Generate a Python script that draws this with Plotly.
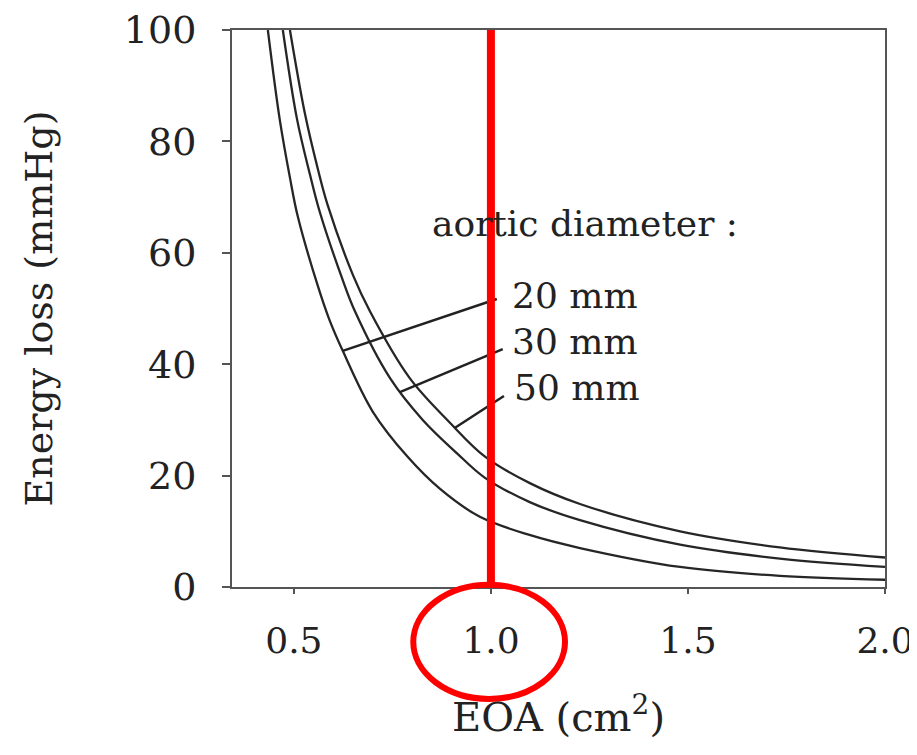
import plotly.graph_objects as go

# --- data ---
eoa_20 = [0.434, 0.464, 0.490, 0.510, 0.561, 0.590, 0.624, 0.700, 0.787, 0.871, 0.972, 1.100, 1.226, 1.480, 1.733, 2.000]
el_20 = [100.0, 84.0, 73.5, 66.5, 54.0, 48.0, 42.4, 31.5, 23.5, 17.6, 12.6, 9.3, 7.0, 3.6, 2.0, 1.3]

eoa_30 = [0.472, 0.508, 0.541, 0.565, 0.622, 0.655, 0.744, 0.827, 0.914, 0.985, 1.100, 1.226, 1.480, 1.733, 2.000]
el_30 = [100.0, 84.0, 74.0, 67.5, 55.5, 49.5, 37.5, 30.0, 24.0, 19.6, 15.2, 12.0, 7.6, 5.1, 3.6]

eoa_50 = [0.490, 0.528, 0.561, 0.586, 0.650, 0.693, 0.794, 0.896, 0.985, 1.100, 1.226, 1.480, 1.733, 2.000]
el_50 = [100.0, 85.0, 75.0, 68.5, 56.0, 49.5, 37.5, 29.5, 23.4, 18.6, 14.9, 10.0, 7.1, 5.3]

series_names = ["20 mm", "30 mm", "50 mm"]
# leader-line contact points on each curve and label anchor points
contact_x = [0.624, 0.769, 0.909]
contact_y = [42.4, 35.0, 28.6]
label_x = [1.048, 1.048, 1.053]
label_y = [52.4, 44.0, 35.9]
tail_x = [1.015, 1.030, 1.033]
tail_y = [51.7, 42.7, 34.3]

legend_title = "aortic diameter :"
legend_title_x = 0.845
legend_title_y = 65.3

x_ticks = [0.5, 1.0, 1.5, 2.0]
x_tick_labels = ["0.5", "1.0", "1.5", "2.0"]
y_ticks = [0, 20, 40, 60, 80, 100]
highlight_eoa = 1.0

FONT = "DejaVu Serif"
INK = "#222222"
AX = "#555555"
RED = "#ff0000"

fig = go.Figure()
for xs, ys, nm in [(eoa_20, el_20, series_names[0]),
                   (eoa_30, el_30, series_names[1]),
                   (eoa_50, el_50, series_names[2])]:
    fig.add_trace(go.Scatter(x=xs, y=ys, mode="lines", name=nm,
                             line=dict(color="#262626", width=2.3, shape="spline", smoothing=1.0),
                             showlegend=False, hoverinfo="x+y+name"))

annotations = []
annotations.append(dict(x=legend_title_x, y=legend_title_y, xref="x", yref="y",
                        text=legend_title, showarrow=False, xanchor="left", yanchor="middle",
                        font=dict(family=FONT, size=36, color=INK)))
for i, nm in enumerate(series_names):
    annotations.append(dict(x=label_x[i], y=label_y[i], xref="x", yref="y", text=nm,
                            showarrow=False, xanchor="left", yanchor="middle",
                            font=dict(family=FONT, size=36, color=INK)))
    fig.add_shape(type="line", xref="x", yref="y",
                  x0=contact_x[i], y0=contact_y[i], x1=tail_x[i], y1=tail_y[i],
                  line=dict(color=INK, width=2.5))

fig.add_shape(type="line", xref="x", yref="y", x0=highlight_eoa, x1=highlight_eoa,
              y0=0.9, y1=100, line=dict(color=RED, width=8), layer="above")
fig.add_shape(type="circle", xref="x", yref="paper", x0=highlight_eoa - 0.197, x1=highlight_eoa + 0.188,
              y0=-0.201, y1=0.004, line=dict(color=RED, width=6), layer="above")

fig.update_layout(
    width=909, height=747,
    margin=dict(l=224, r=32, t=22, b=168),
    paper_bgcolor="white", plot_bgcolor="white",
    font=dict(family=FONT, color=INK),
    annotations=annotations,
)
fig.update_xaxes(range=[0.343, 2.0], tickvals=x_ticks, ticktext=x_tick_labels,
                 ticks="outside", ticklen=5, tickwidth=2, tickcolor=AX,
                 showline=True, linewidth=2, linecolor=AX, mirror=True,
                 showgrid=False, zeroline=False, automargin=False,
                 tickfont=dict(family=FONT, size=36, color=INK), ticklabelstandoff=16,
                 title=dict(text="EOA (cm<sup>2</sup>)", font=dict(family=FONT, size=40, color=INK), standoff=43))
fig.update_yaxes(range=[0, 100], tickvals=y_ticks,
                 ticks="outside", ticklen=8, tickwidth=2, tickcolor=AX,
                 showline=True, linewidth=2, linecolor=AX, mirror=True,
                 showgrid=False, zeroline=False, automargin=False,
                 tickfont=dict(family=FONT, size=38, color=INK), ticklabelstandoff=18,
                 title=dict(text="Energy loss (mmHg)", font=dict(family=FONT, size=38, color=INK), standoff=60))

fig.write_html("out.html")
